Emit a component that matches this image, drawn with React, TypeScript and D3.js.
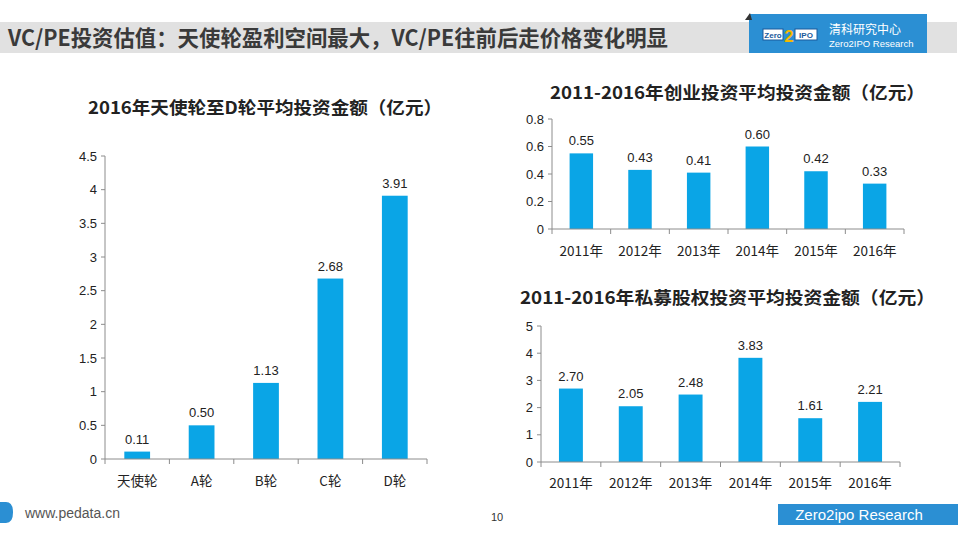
import React from "react";
import * as d3 from "d3";

const roundCategories = ["天使轮", "A轮", "B轮", "C轮", "D轮"];
const roundValues = [0.11, 0.5, 1.13, 2.68, 3.91];
const roundTicks = [0, 0.5, 1, 1.5, 2, 2.5, 3, 3.5, 4, 4.5];

const years = ["2011年", "2012年", "2013年", "2014年", "2015年", "2016年"];
const vcValues = [0.55, 0.43, 0.41, 0.6, 0.42, 0.33];
const vcTicks = [0, 0.2, 0.4, 0.6, 0.8];
const peValues = [2.7, 2.05, 2.48, 3.83, 1.61, 2.21];
const peTicks = [0, 1, 2, 3, 4, 5];

const headerTitle = "VC/PE投资估值：天使轮盈利空间最大，VC/PE往前后走价格变化明显";
const title1 = "2016年天使轮至D轮平均投资金额（亿元）";
const title2 = "2011-2016年创业投资平均投资金额（亿元）";
const title3 = "2011-2016年私募股权投资平均投资金额（亿元）";

const BAR = "#0aa5e6";
const AXIS = "#8c8c8c";
const LATIN = "'Liberation Sans', Arial, sans-serif";
const CJK = "'Noto Sans CJK SC', 'Liberation Sans', sans-serif";

type ChartProps = {
  categories: string[];
  values: number[];
  ticks: number[];
  x0: number;
  x1: number;
  y0: number;
  y1: number;
  catY: number;
  tickFmt: (v: number) => string;
};

function BarChart({ categories, values, ticks, x0, x1, y0, y1, catY, tickFmt }: ChartProps) {
  const x = d3.scaleBand<string>().domain(categories).range([x0, x1]).paddingInner(0.6).paddingOuter(0.3);
  const bandStep = (x1 - x0) / categories.length;
  const y = d3.scaleLinear().domain([0, ticks[ticks.length - 1]]).range([y0, y1]);
  return (
    <g>
      {values.map((v, i) => (
        <rect key={"b" + i} x={x(categories[i])} y={y(v)} width={x.bandwidth()} height={y0 - y(v)} fill={BAR} />
      ))}
      {values.map((v, i) => (
        <text key={"v" + i} x={(x(categories[i]) as number) + x.bandwidth() / 2} y={y(v) - 8} textAnchor="middle"
          fontFamily={LATIN} fontSize={13} fill="#222">{d3.format(".2f")(v)}</text>
      ))}
      <line x1={x0} x2={x0} y1={y1} y2={y0} stroke={AXIS} />
      <line x1={x0} x2={x1} y1={y0} y2={y0} stroke={AXIS} />
      {ticks.map((t, i) => (
        <g key={"t" + i}>
          <line x1={x0 - 4} x2={x0} y1={y(t)} y2={y(t)} stroke={AXIS} />
          <text x={x0 - 8} y={y(t) + 4.5} textAnchor="end" fontFamily={LATIN} fontSize={13} fill="#222">{tickFmt(t)}</text>
        </g>
      ))}
      {d3.range(categories.length + 1).map((i) => (
        <line key={"xt" + i} x1={x0 + i * bandStep} x2={x0 + i * bandStep} y1={y0} y2={y0 + 5} stroke={AXIS} />
      ))}
      {categories.map((c, i) => (
        <text key={"c" + i} x={(x(c) as number) + x.bandwidth() / 2} y={catY} textAnchor="middle"
          fontFamily={CJK} fontSize={13.5} fill="#222">{c}</text>
      ))}
    </g>
  );
}

export default function App() {
  return (
    <svg width={960} height={540} style={{ position: "absolute", left: 0, top: 0, background: "#fff" }}>
      <rect x={0} y={0} width={960} height={540} fill="#fff" />
      {/* header band */}
      <rect x={0} y={22} width={957} height={31} fill="#e1e1e1" />
      <text x={8} y={46} fontFamily={CJK} fontWeight="bold" fontSize={22} fill="#3a3a3a"
        textLength={660} lengthAdjust="spacingAndGlyphs">{headerTitle}</text>
      {/* logo */}
      <rect x={749} y={14} width={178} height={39} fill="#2b8fd3" />
      <path d="M745,20 L750,13 L752,20 Z" fill="#333" />
      <rect x={763} y={29} width={20} height={11} fill="#fff" stroke="#1a5a9c" strokeWidth={1} />
      <text x={773} y={38} textAnchor="middle" fontFamily={LATIN} fontWeight="bold" fontSize={8} fill="#1a5a9c">Zero</text>
      <text x={789} y={42} textAnchor="middle" fontFamily={LATIN} fontWeight="bold" fontSize={17} fill="#f5b800">2</text>
      <rect x={795} y={29} width={22} height={11} fill="#fff" stroke="#1a5a9c" strokeWidth={1} />
      <text x={806} y={38} textAnchor="middle" fontFamily={LATIN} fontWeight="bold" fontSize={8} fill="#1a5a9c">IPO</text>
      <text x={829} y={34} fontFamily={CJK} fontSize={12} fill="#fff">清科研究中心</text>
      <text x={829} y={47} fontFamily={LATIN} fontSize={9.5} fill="#fff">Zero2IPO Research</text>

      {/* chart titles */}
      <text x={88} y={114} fontFamily={CJK} fontWeight="bold" fontSize={17.5} fill="#222"
        textLength={354} lengthAdjust="spacingAndGlyphs">{title1}</text>
      <text x={550} y={99} fontFamily={CJK} fontWeight="bold" fontSize={17.5} fill="#222"
        textLength={375} lengthAdjust="spacingAndGlyphs">{title2}</text>
      <text x={520} y={304} fontFamily={CJK} fontWeight="bold" fontSize={17.5} fill="#222"
        textLength={415} lengthAdjust="spacingAndGlyphs">{title3}</text>

      <BarChart categories={roundCategories} values={roundValues} ticks={roundTicks}
        x0={105} x1={427} y0={459} y1={156} catY={486} tickFmt={(v) => String(v)} />
      <BarChart categories={years} values={vcValues} ticks={vcTicks}
        x0={552} x1={904} y0={229} y1={119} catY={256} tickFmt={(v) => String(v)} />
      <BarChart categories={years} values={peValues} ticks={peTicks}
        x0={541} x1={900} y0={462} y1={326} catY={488} tickFmt={(v) => String(v)} />

      {/* footer */}
      <path d="M0,502 L6,502 Q13,502 13,512.5 Q13,523 6,523 L0,523 Z" fill="#2b8fd3" />
      <text x={25} y={518} fontFamily={LATIN} fontSize={14} fill="#555">www.pedata.cn</text>
      <text x={497} y={521} textAnchor="middle" fontFamily={LATIN} fontSize={11} fill="#333">10</text>
      <rect x={778} y={504} width={180} height={21} fill="#2b8fd3" />
      <text x={859} y={520} textAnchor="middle" fontFamily={LATIN} fontSize={15} fill="#fff">Zero2ipo Research</text>
    </svg>
  );
}
